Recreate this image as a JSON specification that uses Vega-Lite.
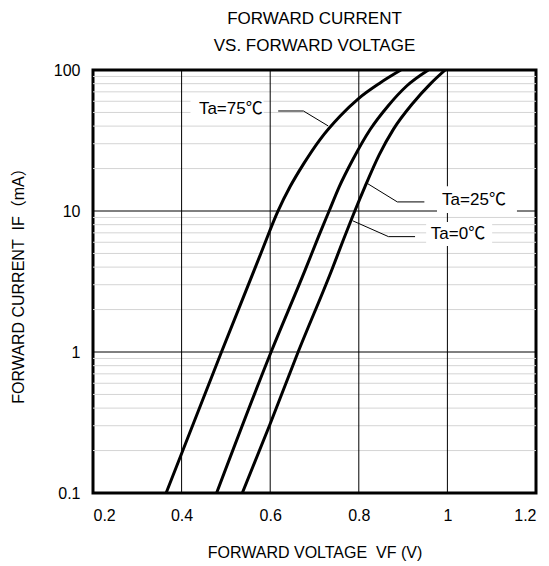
{
  "$schema": "https://vega.github.io/schema/vega-lite/v6.json",
  "width": 443,
  "height": 423,
  "autosize": {"type": "none"},
  "padding": {"left": 93, "top": 70, "right": 13, "bottom": 73},
  "background": "white",
  "title": {
    "text": ["FORWARD CURRENT", "VS. FORWARD VOLTAGE"],
    "anchor": "middle",
    "fontSize": 17,
    "fontWeight": "normal",
    "font": "Liberation Sans",
    "color": "black",
    "lineHeight": 27,
    "offset": 7
  },
  "config": {
    "view": {"stroke": "black", "strokeWidth": 3},
    "font": "Liberation Sans",
    "axis": {
      "grid": false, "ticks": false, "domain": false,
      "labelFontSize": 16, "labelColor": "black", "labelFont": "Liberation Sans",
      "titleFontSize": 16, "titleFontWeight": "normal", "titleColor": "black", "titleFont": "Liberation Sans, Noto Sans CJK JP"
    },
    "axisX": {"labelPadding": 14, "titlePadding": 21},
    "axisY": {"labelPadding": 13, "titlePadding": 27}
  },
  "datasets": {
    "curves": [
      {"series": "75", "v": 0.365, "i": 0.1},
      {"series": "75", "v": 0.49, "i": 1.0},
      {"series": "75", "v": 0.58, "i": 5.1},
      {"series": "75", "v": 0.617, "i": 9.9},
      {"series": "75", "v": 0.645, "i": 14.9},
      {"series": "75", "v": 0.675, "i": 21.5},
      {"series": "75", "v": 0.712, "i": 32},
      {"series": "75", "v": 0.758, "i": 47.2},
      {"series": "75", "v": 0.800, "i": 63},
      {"series": "75", "v": 0.848, "i": 81},
      {"series": "75", "v": 0.895, "i": 100},
      {"series": "25", "v": 0.479, "i": 0.1},
      {"series": "25", "v": 0.602, "i": 1.0},
      {"series": "25", "v": 0.679, "i": 3.82},
      {"series": "25", "v": 0.709, "i": 6.58},
      {"series": "25", "v": 0.733, "i": 10},
      {"series": "25", "v": 0.756, "i": 14.9},
      {"series": "25", "v": 0.786, "i": 23},
      {"series": "25", "v": 0.826, "i": 38},
      {"series": "25", "v": 0.866, "i": 55.6},
      {"series": "25", "v": 0.908, "i": 77},
      {"series": "25", "v": 0.957, "i": 100},
      {"series": "0", "v": 0.537, "i": 0.1},
      {"series": "0", "v": 0.60, "i": 0.31},
      {"series": "0", "v": 0.663, "i": 1.0},
      {"series": "0", "v": 0.739, "i": 3.82},
      {"series": "0", "v": 0.765, "i": 6.22},
      {"series": "0", "v": 0.791, "i": 10},
      {"series": "0", "v": 0.814, "i": 14.9},
      {"series": "0", "v": 0.846, "i": 25},
      {"series": "0", "v": 0.878, "i": 37.9},
      {"series": "0", "v": 0.923, "i": 58.6},
      {"series": "0", "v": 0.961, "i": 79.4},
      {"series": "0", "v": 0.995, "i": 100}
    ],
    "leaders": [
      {"label": "75", "v": 0.618, "i": 51.2},
      {"label": "75", "v": 0.675, "i": 51.2},
      {"label": "75", "v": 0.731, "i": 40.1},
      {"label": "25", "v": 0.819, "i": 15.7},
      {"label": "25", "v": 0.887, "i": 11.6},
      {"label": "25", "v": 0.948, "i": 11.6},
      {"label": "0", "v": 0.786, "i": 8.53},
      {"label": "0", "v": 0.867, "i": 6.58},
      {"label": "0", "v": 0.927, "i": 6.58}
    ],
    "minor": [
      {"i": 0.2}, {"i": 0.3}, {"i": 0.4}, {"i": 0.5}, {"i": 0.6}, {"i": 0.7}, {"i": 0.8}, {"i": 0.9},
      {"i": 2}, {"i": 3}, {"i": 4}, {"i": 5}, {"i": 6}, {"i": 7}, {"i": 8}, {"i": 9},
      {"i": 20}, {"i": 30}, {"i": 40}, {"i": 50}, {"i": 60}, {"i": 70}, {"i": 80}, {"i": 90}
    ],
    "majorY": [{"i": 1}, {"i": 10}],
    "majorX": [{"v": 0.4}, {"v": 0.6}, {"v": 0.8}, {"v": 1.0}],
    "boxes": [
      {"v": 0.42, "v2": 0.585, "i": 62, "i2": 43},
      {"v": 0.9765, "v2": 1.157, "i": 15.0, "i2": 9.68},
      {"v": 0.952, "v2": 1.101, "i": 8.36, "i2": 5.65}
    ],
    "labels": [
      {"text": "Ta=75℃", "v": 0.511, "i": 52.6},
      {"text": "Ta=25℃", "v": 1.060, "i": 11.97},
      {"text": "Ta=0℃", "v": 1.024, "i": 6.87}
    ]
  },
  "layer": [
    {
      "data": {"name": "minor"},
      "mark": {"type": "rule", "color": "#d4d4d4", "strokeWidth": 1},
      "encoding": {
        "y": {"field": "i", "type": "quantitative", "scale": {"type": "log", "domain": [0.1, 100]},
              "axis": {"values": [0.1, 1, 10, 100], "format": "~g", "title": "FORWARD CURRENT\u00a0 IF（mA）"}}
      }
    },
    {
      "data": {"name": "majorY"},
      "mark": {"type": "rule", "color": "black", "strokeWidth": 1},
      "encoding": {
        "y": {"field": "i", "type": "quantitative", "scale": {"type": "log", "domain": [0.1, 100]},
              "axis": {"values": [0.1, 1, 10, 100], "format": "~g", "title": "FORWARD CURRENT\u00a0 IF（mA）"}}
      }
    },
    {
      "data": {"name": "majorX"},
      "mark": {"type": "rule", "color": "black", "strokeWidth": 1},
      "encoding": {
        "x": {"field": "v", "type": "quantitative", "scale": {"domain": [0.2, 1.2], "nice": false, "zero": false},
              "axis": {"values": [0.2, 0.4, 0.6, 0.8, 1.0, 1.2], "format": ".1~f", "title": "FORWARD VOLTAGE\u00a0 VF (V)"}}
      }
    },
    {
      "data": {"name": "curves"},
      "mark": {"type": "line", "color": "black", "strokeWidth": 3, "interpolate": "monotone", "clip": true},
      "encoding": {
        "x": {"field": "v", "type": "quantitative", "scale": {"domain": [0.2, 1.2], "nice": false, "zero": false},
              "axis": {"values": [0.2, 0.4, 0.6, 0.8, 1.0, 1.2], "format": ".1~f", "title": "FORWARD VOLTAGE\u00a0 VF (V)"}},
        "y": {"field": "i", "type": "quantitative", "scale": {"type": "log", "domain": [0.1, 100]},
              "axis": {"values": [0.1, 1, 10, 100], "format": "~g", "title": "FORWARD CURRENT\u00a0 IF（mA）"}},
        "detail": {"field": "series"},
        "order": {"field": "v", "type": "quantitative"}
      }
    },
    {
      "data": {"name": "leaders"},
      "mark": {"type": "line", "color": "black", "strokeWidth": 1},
      "encoding": {
        "x": {"field": "v", "type": "quantitative", "scale": {"domain": [0.2, 1.2], "nice": false, "zero": false},
              "axis": {"values": [0.2, 0.4, 0.6, 0.8, 1.0, 1.2], "format": ".1~f", "title": "FORWARD VOLTAGE\u00a0 VF (V)"}},
        "y": {"field": "i", "type": "quantitative", "scale": {"type": "log", "domain": [0.1, 100]},
              "axis": {"values": [0.1, 1, 10, 100], "format": "~g", "title": "FORWARD CURRENT\u00a0 IF（mA）"}},
        "detail": {"field": "label"},
        "order": {"field": "v", "type": "quantitative"}
      }
    },
    {
      "data": {"name": "boxes"},
      "mark": {"type": "rect", "color": "white"},
      "encoding": {
        "x": {"field": "v", "type": "quantitative", "scale": {"domain": [0.2, 1.2], "nice": false, "zero": false},
              "axis": {"values": [0.2, 0.4, 0.6, 0.8, 1.0, 1.2], "format": ".1~f", "title": "FORWARD VOLTAGE\u00a0 VF (V)"}},
        "x2": {"field": "v2"},
        "y": {"field": "i", "type": "quantitative", "scale": {"type": "log", "domain": [0.1, 100]},
              "axis": {"values": [0.1, 1, 10, 100], "format": "~g", "title": "FORWARD CURRENT\u00a0 IF（mA）"}},
        "y2": {"field": "i2"}
      }
    },
    {
      "data": {"name": "labels"},
      "mark": {"type": "text", "fontSize": 17, "color": "black", "align": "center", "baseline": "middle", "font": "Liberation Sans, Noto Sans CJK JP"},
      "encoding": {
        "x": {"field": "v", "type": "quantitative", "scale": {"domain": [0.2, 1.2], "nice": false, "zero": false},
              "axis": {"values": [0.2, 0.4, 0.6, 0.8, 1.0, 1.2], "format": ".1~f", "title": "FORWARD VOLTAGE\u00a0 VF (V)"}},
        "y": {"field": "i", "type": "quantitative", "scale": {"type": "log", "domain": [0.1, 100]},
              "axis": {"values": [0.1, 1, 10, 100], "format": "~g", "title": "FORWARD CURRENT\u00a0 IF（mA）"}},
        "text": {"field": "text"}
      }
    }
  ]
}
